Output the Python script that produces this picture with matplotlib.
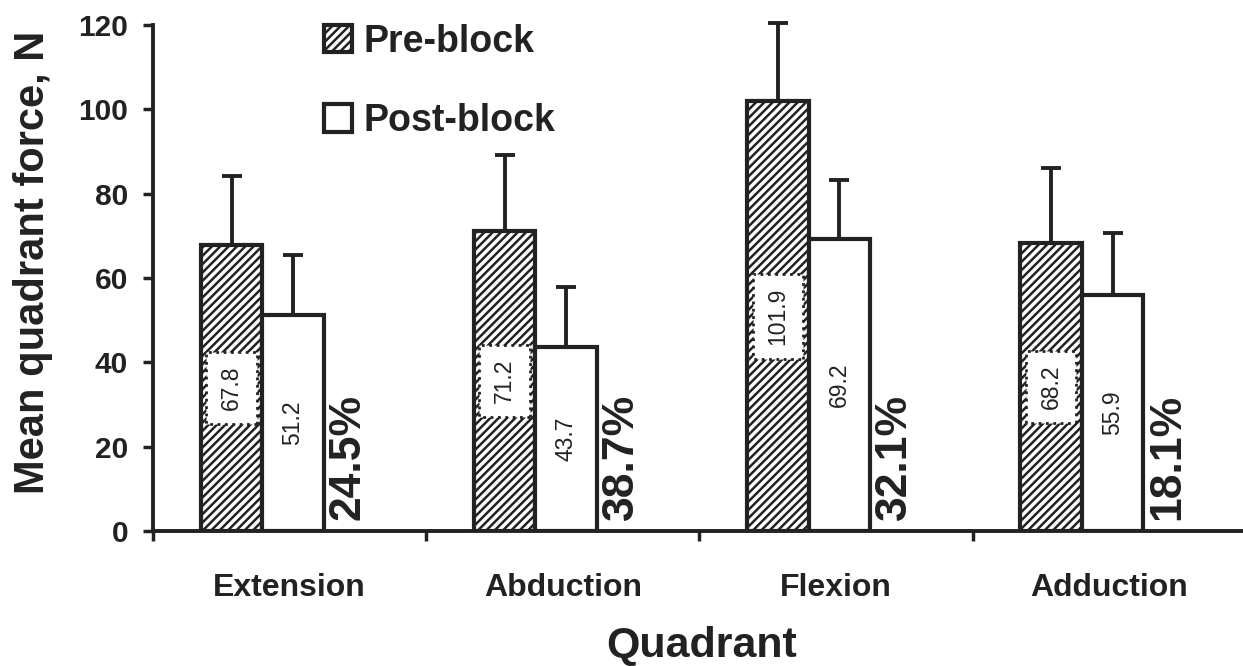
import numpy as np
import matplotlib
matplotlib.use('Agg')
import matplotlib.pyplot as plt
from matplotlib.patches import Patch

plt.rcParams['font.family'] = ['Liberation Sans', 'DejaVu Sans']
plt.rcParams['hatch.linewidth'] = 1.8

# data
quadrants = ['Extension', 'Abduction', 'Flexion', 'Adduction']
pre_block = [67.8, 71.2, 101.9, 68.2]
post_block = [51.2, 43.7, 69.2, 55.9]
pre_sd = [16.3, 18.0, 18.5, 17.8]
post_sd = [14.2, 14.2, 14.0, 14.7]
reduction = ['24.5%', '38.7%', '32.1%', '18.1%']

ink = '#222222'

fig = plt.figure(figsize=(12.43, 6.66), dpi=100)
ax = fig.add_axes([0.1231, 0.2027, 0.8769, 0.7598])

x = np.arange(len(quadrants)) + 0.5
w = 0.225

# bars
ax.bar(x - 0.2125, pre_block, w, color='white', edgecolor=ink, hatch='////',
       linewidth=3, zorder=2)
ax.bar(x + 0.0125, post_block, w, color='white', edgecolor=ink,
       linewidth=3, zorder=2)

# only upper error bars
for xs, vals, sd in [(x - 0.2125, pre_block, pre_sd), (x + 0.0125, post_block, post_sd)]:
    eb = ax.errorbar(xs, vals, yerr=[np.zeros(4), sd], fmt='none',
                     ecolor=ink, elinewidth=2.8, capsize=7, capthick=2.8, zorder=1)
    for art in eb.lines[1] + eb.lines[2]:
        art.set_clip_on(False)

# value labels
for i in range(len(quadrants)):
    ax.text(x[i] - 0.2125, pre_block[i] / 2, '%.1f' % pre_block[i], rotation=90,
            ha='center', va='center', fontsize=16.5, color=ink, zorder=3,
            bbox=dict(boxstyle='square,pad=0.6', fc='white', ec=ink, ls=':', lw=2))
    ax.text(x[i] + 0.0125, post_block[i] / 2, '%.1f' % post_block[i], rotation=90,
            ha='center', va='center', fontsize=16.5, color=ink, zorder=3)
    ax.text(x[i] + 0.214, 2.5, reduction[i], rotation=90, ha='center', va='bottom',
            fontsize=32, fontweight='bold', color=ink, zorder=3)

# axes
ax.set_xlim(0, 3.99)
ax.set_ylim(0, 120)
ax.set_yticks(range(0, 121, 20))
ax.set_xticks([0, 1, 2, 3])
ax.set_xticklabels([])
ax.set_xticks(x, minor=True)
ax.set_xticklabels(quadrants, minor=True)
ax.tick_params(axis='x', which='minor', length=0, pad=30, labelsize=23)
ax.tick_params(axis='x', which='major', length=7, width=2.5, color=ink)
ax.tick_params(axis='y', length=7, width=2.5, color=ink, pad=11, labelsize=21.5)
for lab in ax.get_xticklabels(minor=True) + ax.get_yticklabels():
    lab.set_fontweight('bold')
    lab.set_color(ink)

for s in ['top', 'right']:
    ax.spines[s].set_visible(False)
for s in ['left', 'bottom']:
    ax.spines[s].set_linewidth(2.8)
    ax.spines[s].set_color(ink)

fig.text(33 / 1243, 1 - 262 / 666, 'Mean quadrant force, N', rotation=90,
         ha='center', va='center', fontsize=30, fontweight='bold', color=ink)
fig.text(702 / 1243, 1 - 626 / 666, 'Quadrant', ha='center', va='top',
         fontsize=31, fontweight='bold', color=ink)

# legend
handles = [Patch(facecolor='white', edgecolor=ink, hatch='////', linewidth=3),
           Patch(facecolor='white', edgecolor=ink, linewidth=3)]
leg = fig.legend(handles, ['Pre-block', 'Post-block'], loc='upper left',
                 bbox_to_anchor=(290 / 1243, 1 + 10 / 666), frameon=False,
                 prop={'size': 27, 'weight': 'bold'}, handlelength=0.75,
                 handleheight=0.75, handletextpad=0.3, labelspacing=1.15)
for t in leg.get_texts():
    t.set_color(ink)

fig.savefig('out.png', dpi=100)
